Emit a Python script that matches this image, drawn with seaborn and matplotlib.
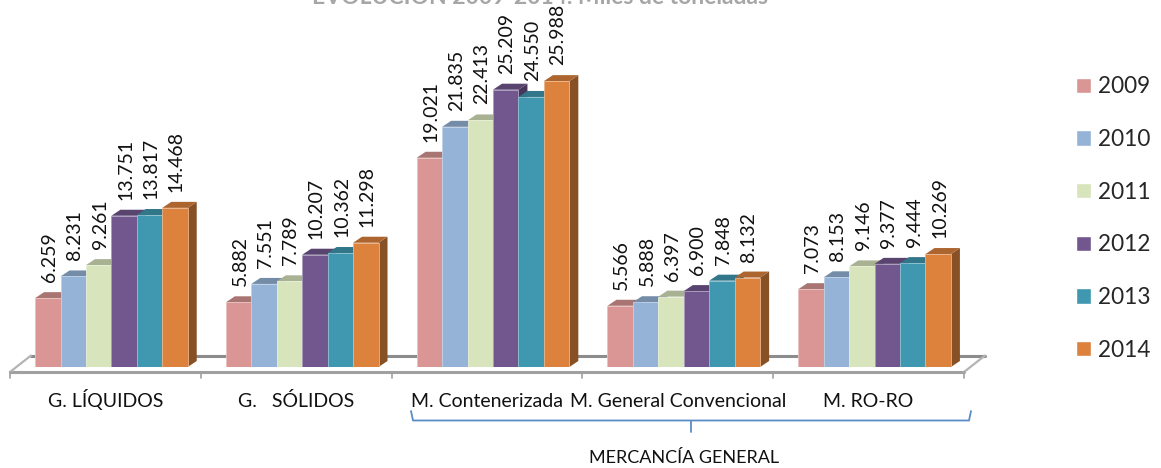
import seaborn as sns
import matplotlib.pyplot as plt
import matplotlib.colors as mcolors
from matplotlib.patches import Polygon
import pandas as pd
import numpy as np

# Data (toneladas, miles)
categorias = ["G. LÍQUIDOS", "G.   SÓLIDOS", "M. Contenerizada", "M. General Convencional", "M. RO-RO"]
anios = ["2009", "2010", "2011", "2012", "2013", "2014"]
v2009 = [6259, 5882, 19021, 5566, 7073]
v2010 = [8231, 7551, 21835, 5888, 8153]
v2011 = [9261, 7789, 22413, 6397, 9146]
v2012 = [13751, 10207, 25209, 6900, 9377]
v2013 = [13817, 10362, 24550, 7848, 9444]
v2014 = [14468, 11298, 25988, 8132, 10269]
colores = ["#D99694", "#95B3D7", "#D8E4BC", "#72578F", "#3F97B0", "#DC823C"]

df = pd.DataFrame({"categoria": categorias, "2009": v2009, "2010": v2010, "2011": v2011,
                   "2012": v2012, "2013": v2013, "2014": v2014})
df = df.melt(id_vars="categoria", var_name="anio", value_name="valor")

sns.set_theme(style="white")
plt.rcParams["font.family"] = ["Lato", "DejaVu Sans"]

W, H = 1161, 468
fig = plt.figure(figsize=(W / 100, H / 100), dpi=100)

# floor of the fake 3D chart, in pixels
deco = fig.add_axes([0, 0, 1, 1], zorder=0)
deco.set_xlim(0, W)
deco.set_ylim(H, 0)
deco.axis("off")
deco.plot([31, 985], [355.5, 355.5], color="#8C8C8C", lw=2.2)
deco.plot([10, 964], [372, 372], color="#A0A0A0", lw=2.2)
deco.plot([10, 31], [372, 355.5], color="#B4B4B4", lw=1.6)
deco.plot([964, 985], [372, 355.5], color="#B4B4B4", lw=1.6)
for k in range(6):
    xt = 10 + 190.8 * k
    deco.plot([xt, xt], [372, 378], color="#A0A0A0", lw=1.2)

# bracket for mercancia general
brk = "#5B8CC8"
deco.plot([411, 413, 969, 971], [411, 420.5, 420.5, 411], color=brk, lw=1.3)
deco.plot([691, 691], [420.5, 432], color=brk, lw=1.3)
deco.text(684, 463, "MERCANCÍA GENERAL", ha="center", va="baseline", fontsize=13, color="#111111")

# bars: 11 px per 1000, category 190.8 px wide
PX_X = 190.8
PX_Y = 0.011
ax = fig.add_axes([16 / W, (H - 367) / H, 954 / W, 367 / H], zorder=1)
ax.patch.set_alpha(0)
sns.barplot(data=df, x="categoria", y="valor", hue="anio", hue_order=anios, palette=colores,
            saturation=1, width=0.8, gap=0, ax=ax)
ax.set_xlim(-0.5, 4.5)
ax.set_ylim(0, 367 / PX_Y)
ax.set_xlabel("")
ax.set_ylabel("")
ax.set_yticks([])
ax.set_xticks(np.arange(5) - 6 / PX_X, categorias)
ax.tick_params(axis="x", length=0, pad=29, labelsize=14, labelcolor="#111111")
for t in ax.get_xticklabels():
    t.set_va("baseline")
sns.despine(ax=ax, left=True, bottom=True)

dx = 9 / PX_X
dy = 6 / PX_Y


def miles(v):
    return f"{v:,.0f}".replace(",", ".")


todas = []
for c in ax.containers:
    todas.extend(c.patches)
todas.sort(key=lambda b: b.get_x())
for i, bar in enumerate(todas):
    x0, x1, h = bar.get_x(), bar.get_x() + bar.get_width(), bar.get_height()
    col = np.array(mcolors.to_rgb(bar.get_facecolor()))
    z = 3 + i * 0.1
    bar.set_zorder(z + 0.02)
    # thin pale edge like the glow between the bars
    bar.set_edgecolor(col * 0.6 + 0.4)
    bar.set_linewidth(0.6)
    ax.add_patch(Polygon([(x1, 0), (x1 + dx, dy), (x1 + dx, h + dy), (x1, h)], closed=True,
                         facecolor=col * 0.62, edgecolor="none", zorder=z, clip_on=False))
    ax.add_patch(Polygon([(x0, h), (x0 + dx, h + dy), (x1 + dx, h + dy), (x1, h)], closed=True,
                         facecolor=col * 0.78, edgecolor="none", zorder=z, clip_on=False))

for c in ax.containers:
    labs = ax.bar_label(c, fmt=miles, rotation=90, padding=11.5, fontsize=14, color="#111111", clip_on=False)
    for t in labs:
        t.set_zorder(20)
        t.xyann = (1, 11.5)

sns.move_legend(ax, "center left", bbox_to_anchor=(1076 / W, 1 - 218.5 / H), bbox_transform=fig.transFigure,
                frameon=False, title=None, fontsize=16.3, labelspacing=1.4, handlelength=0.66,
                handleheight=0.66, handletextpad=0.3, borderpad=0, borderaxespad=0)

fig.text(540 / W, 1 - 4 / H, "EVOLUCIÓN 2009-2014. Miles de toneladas", ha="center", va="baseline",
         fontsize=16.5, fontweight="bold", color="#A6A6A6")

fig.savefig("out.png", dpi=100)
